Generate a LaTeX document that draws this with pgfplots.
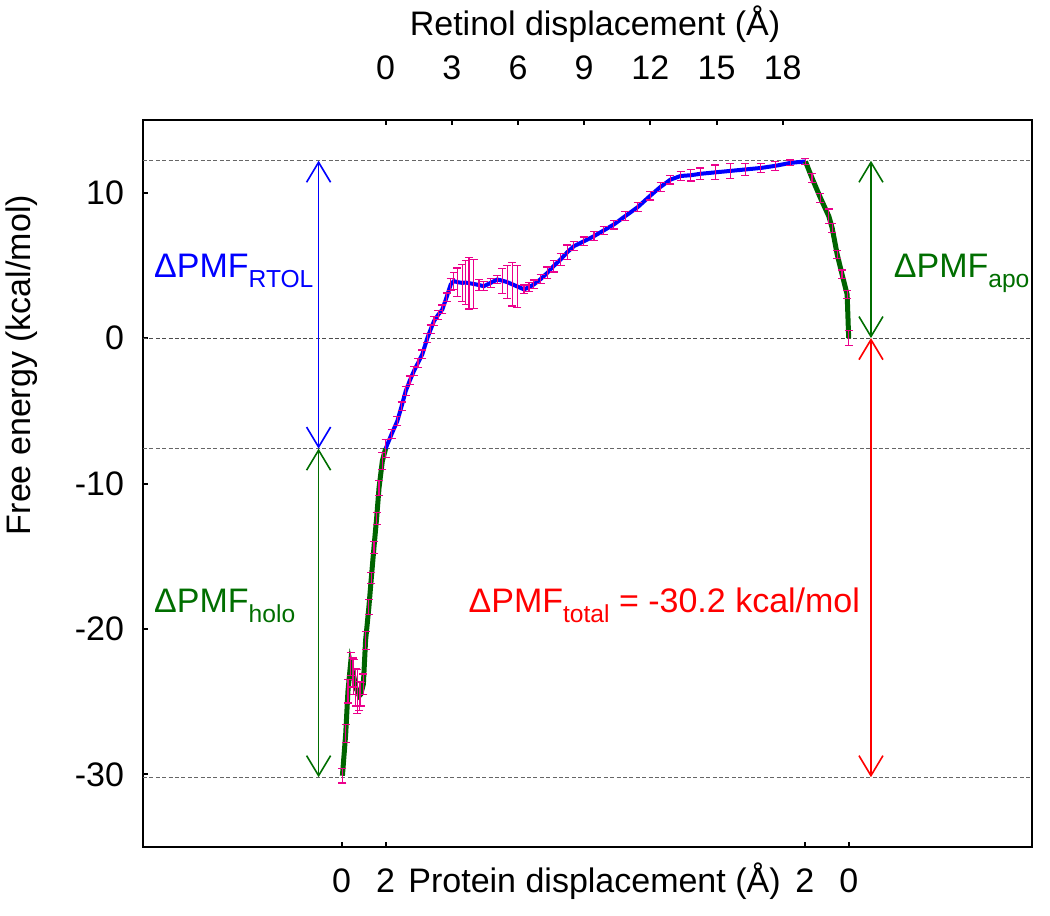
\documentclass[border=0pt]{standalone}
\usepackage{fontspec}
\setmainfont{Liberation Sans}
\usepackage{pgfplots}
\pgfplotsset{compat=1.18}
\usetikzlibrary{arrows.meta}
\definecolor{dgreen}{RGB}{0,100,0}
\definecolor{agreen}{RGB}{0,110,0}
\newcommand{\fs}{\fontsize{17}{20}\selectfont}
\newcommand{\dsub}[1]{\raisebox{-5pt}{\fontsize{12.3}{14}\selectfont #1}}
\pgfplotstableread{
x y e
-1.96 -30.1 0.5
-1.81 -27.2 0.6
-1.71 -24.3 0.8
-1.59 -22.4 0.8
-1.50 -23.0 1.0
-1.44 -23.3 1.2
-1.36 -24.0 1.3
-1.28 -24.3 1.5
-1.20 -24.6 1.0
-1.13 -24.5 0.8
-1.01 -23.8 0.7
-0.91 -20.8 0.6
-0.76 -18.5 0.5
-0.65 -16.5 0.4
-0.53 -14.4 0.4
-0.41 -12.4 0.4
-0.30 -10.3 0.5
-0.15 -8.45 0.6
0.00 -7.6 0.6
}\holo
\pgfplotstableread{
x y e
0.00 -7.6 0.6
0.27 -6.6 0.3
0.53 -5.7 0.3
0.72 -4.7 0.3
0.91 -3.64 0.3
1.10 -2.9 0.3
1.28 -2.27 0.3
1.47 -1.7 0.3
1.66 -1.12 0.3
1.89 0.0 0.3
2.04 0.6 0.3
2.19 1.17 0.3
2.38 1.6 0.3
2.57 1.97 0.3
2.76 2.8 0.3
2.95 3.69 0.4
3.09 3.92 0.6
3.25 3.85 0.97
3.47 3.80 1.26
3.63 3.82 1.5
3.78 3.78 1.78
4.00 3.72 1.66
4.23 3.65 0.4
4.45 3.57 0.3
4.76 3.80 0.3
5.06 4.03 0.3
5.29 3.95 0.86
5.51 3.85 1.15
5.74 3.70 1.49
5.97 3.55 1.43
6.27 3.35 0.3
6.50 3.5 0.3
6.72 3.69 0.3
7.02 4.05 0.3
7.33 4.49 0.4
7.61 4.95 0.4
7.93 5.41 0.4
8.23 5.9 0.5
8.53 6.32 0.3
8.97 6.65 0.3
9.44 7.01 0.3
9.88 7.4 0.3
10.34 7.81 0.3
10.87 8.4 0.3
11.42 9.0 0.3
12.0 9.8 0.3
12.46 10.4 0.3
12.91 10.9 0.3
13.37 11.15 0.3
13.82 11.2 0.4
14.27 11.3 0.4
14.95 11.4 0.5
15.63 11.5 0.5
16.31 11.6 0.4
17.0 11.7 0.3
17.67 11.85 0.3
18.35 12.05 0.2
19.03 12.15 0.2
}\rtol
\pgfplotstableread{
x y e
19.03 12.15 0.2
19.33 11.0 0.3
19.71 9.64 0.3
20.09 8.38 0.5
20.24 7.58 0.3
20.47 5.75 0.3
20.69 4.38 0.3
20.92 3.0 0.3
20.99 0.0 0.5
}\apo
\begin{document}
\begin{tikzpicture}
\useasboundingbox (-71.5pt,-34.5pt) rectangle (453.5pt,423.5pt);
\begin{axis}[
  scale only axis, width=444.5pt, height=363.5pt,
  xmin=-11, xmax=29.3, ymin=-35, ymax=15,
  axis line style={line width=1.4pt},
  tick pos=left, tick align=inside,
  major tick length=2.5pt,
  every tick/.style={black, line width=1pt},
  xtick={-2,0,19,21}, xticklabels={0,2,2,0},
  extra x ticks={9.47}, extra x tick labels={Protein displacement (Å)},
  extra x tick style={major tick length=0pt},
  xticklabel style={anchor=base, yshift=-22.5pt, font=\fs},
  ytick={-30,-20,-10,0,10}, yticklabels={-30,-20,-10,0,10},
  yticklabel style={font=\fs, anchor=east, xshift=-6pt},
  clip=false,
]
\addplot[black!60, line width=0.5pt, dash pattern=on 2pt off 1.2pt] coordinates {(-11,12.2) (29.3,12.2)};
\addplot[black!70, line width=0.6pt, dash pattern=on 2pt off 1.2pt] coordinates {(-11,0) (29.3,0)};
\addplot[black!60, line width=0.5pt, dash pattern=on 2pt off 1.2pt] coordinates {(-11,-7.6) (29.3,-7.6)};
\addplot[black!60, line width=0.5pt, dash pattern=on 2pt off 1.2pt] coordinates {(-11,-30.2) (29.3,-30.2)};

\addplot[dgreen, line width=2.5pt, error bars/.cd, y dir=both, y explicit,
  error bar style={magenta, line width=0.6pt},
  error mark options={magenta, rotate=90, mark size=2pt, line width=0.6pt}]
  table[x=x, y=y, y error=e] {\holo};
\addplot[blue, line width=2pt, error bars/.cd, y dir=both, y explicit,
  error bar style={magenta, line width=0.6pt},
  error mark options={magenta, rotate=90, mark size=2pt, line width=0.6pt}]
  table[x=x, y=y, y error=e] {\rtol};
\addplot[dgreen, line width=2.5pt, error bars/.cd, y dir=both, y explicit,
  error bar style={magenta, line width=0.6pt},
  error mark options={magenta, rotate=90, mark size=2pt, line width=0.6pt}]
  table[x=x, y=y, y error=e] {\apo};

\addplot[blue, line width=0.8pt, {Straight Barb[length=10pt,width=12pt]}-{Straight Barb[length=10pt,width=12pt]}] coordinates {(-3.04,12.2) (-3.04,-7.6)};
\addplot[agreen, line width=0.8pt, {Straight Barb[length=10pt,width=12pt]}-{Straight Barb[length=10pt,width=12pt]}] coordinates {(-3.04,-7.6) (-3.04,-30.2)};
\addplot[agreen, line width=0.8pt, {Straight Barb[length=10pt,width=12pt]}-{Straight Barb[length=10pt,width=12pt]}] coordinates {(22,12.2) (22,0)};
\addplot[red, line width=0.8pt, {Straight Barb[length=10pt,width=12pt]}-{Straight Barb[length=10pt,width=12pt]}] coordinates {(22,0) (22,-30.2)};

\node[anchor=base west, text=blue, font=\fs, inner sep=0pt] at (axis cs:-10.51,4.2) {ΔPMF\dsub{RTOL}};
\node[anchor=base west, text=agreen, font=\fs, inner sep=0pt] at (axis cs:-10.51,-18.9) {ΔPMF\dsub{holo}};
\node[anchor=base west, text=agreen, font=\fs, inner sep=0pt] at (axis cs:23.02,4.2) {ΔPMF\dsub{apo}};
\node[anchor=base east, text=red, font=\fs, inner sep=0pt] at (axis cs:21.52,-18.9) {ΔPMF\dsub{total} = -30.2 kcal/mol};
\end{axis}
\begin{axis}[
  scale only axis, width=444.5pt, height=363.5pt,
  xmin=-11, xmax=29.3, ymin=-35, ymax=15,
  axis x line*=top, axis y line=none,
  x axis line style={-, line width=1.4pt},
  tick align=inside, major tick length=2.5pt,
  every tick/.style={black, line width=1pt},
  xtick={0,3,6,9,12,15,18}, xticklabels={0,3,6,9,12,15,18},
  xticklabel style={anchor=base, yshift=20pt, font=\fs},
]
\addplot[draw=none] coordinates {(0,0)};
\end{axis}
\node[anchor=base, font=\fs] at (226pt,405.5pt) {Retinol displacement (Å)};
\node[rotate=90, font=\fs] at (-60.5pt,241pt) {Free energy (kcal/mol)};
\end{tikzpicture}
\end{document}
